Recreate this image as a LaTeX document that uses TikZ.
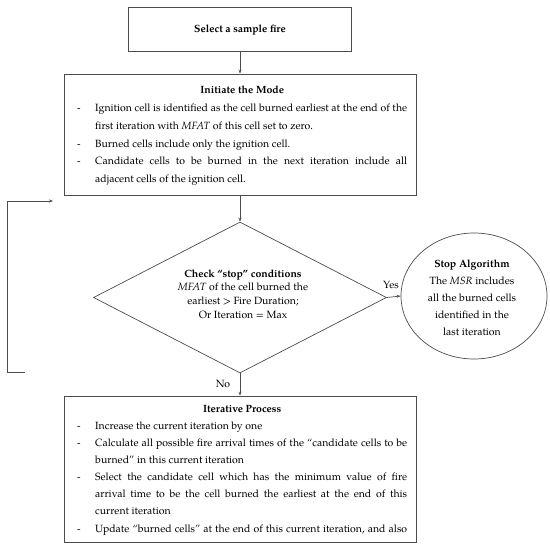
\documentclass[tikz,border=0pt]{standalone}
\usepackage{fontspec}
\setmainfont{TeX Gyre Pagella}
\usetikzlibrary{shapes.geometric,arrows.meta}
\newcommand\bitem[1]{\par\noindent\hangindent=18pt\hangafter=1\makebox[18pt][l]{-}#1\par}
\tikzset{
  line/.style={draw=black!70, line width=0.7pt},
  boxnode/.style={line, rectangle, inner sep=0pt},
  arr/.style={line, -{Stealth[length=4pt,width=3pt]}},
  bodytxt/.style={inner sep=0pt, text width=330pt, align=justify, anchor=north west},
  ctxt/.style={inner sep=0pt, align=center},
}
\begin{document}
\begin{tikzpicture}[x=1pt,y=-1pt]
\useasboundingbox (0,0) rectangle (550,546);
% boxes
\node[boxnode, minimum width=222.5pt, minimum height=44pt] (sel) at (240,29) {};
\node[ctxt, font=\fontsize{10.5}{12}\selectfont\bfseries] (seltxt) at (240,30) {Select a sample fire};
\node[boxnode, minimum width=352pt, minimum height=121pt] (init) at (240,134.5) {};
\node[bodytxt, font=\fontsize{10.5}{17.8}\selectfont] (inittxt) at (77,86) {%
\centerline{\bfseries Initiate the Mode}
\bitem{Ignition cell is identified as the cell burned earliest at the end of the\linebreak first iteration with \textit{MFAT} of this cell set to zero.}
\bitem{Burned cells include only the ignition cell.}
\bitem{Candidate cells to be burned in the next iteration include all\linebreak adjacent cells of the ignition cell.}};
\node[line, diamond, minimum width=293pt, minimum height=151pt, inner sep=0pt] (chk) at (240,297.5) {};
\node[ctxt, font=\fontsize{10.5}{13.6}\selectfont] (chktxt) at (243,294) {\textbf{Check “stop” conditions}\\ \textit{MFAT} of the cell burned the\\ earliest > Fire Duration;\\ Or Iteration = Max};
\node[line, ellipse, minimum width=146pt, minimum height=126pt, inner sep=0pt] (stop) at (474,296) {};
\node[ctxt, font=\fontsize{10.5}{17}\selectfont] (stoptxt) at (472,298) {\textbf{Stop Algorithm}\\ The \textit{MSR} includes\\ all the burned cells\\ identified in the\\ last iteration};
\node[boxnode, minimum width=352pt, minimum height=146pt] (iter) at (240,469) {};
\node[bodytxt, font=\fontsize{10.5}{17.1}\selectfont] (itertxt) at (77,405) {%
\centerline{\bfseries Iterative Process}
\bitem{Increase the current iteration by one}
\bitem{Calculate all possible fire arrival times of the “candidate cells to be\linebreak burned” in this current iteration}
\bitem{Select the candidate cell which has the minimum value of fire\linebreak arrival time to be the cell burned the earliest at the end of this\linebreak current iteration}
{\parfillskip=0pt \bitem{Update “burned cells” at the end of this current iteration, and also}}};
% connectors
\draw[arr] (sel.south) -- (init.north);
\draw[arr] (init.south) -- (chk.north);
\draw[arr] (chk.east) -- (stop.west);
\draw[arr] (chk.south) -- (iter.north);
\node[font=\fontsize{10.5}{12}\selectfont, inner sep=0pt] (yes) at (391,285) {Yes};
\node[font=\fontsize{10.5}{12}\selectfont, inner sep=0pt] (no) at (223,384) {No};
\coordinate (loopstart) at (25,372);
\coordinate (loopend) at (53,201);
\draw[arr] (loopstart) -- (7,372) |- (loopend);
\end{tikzpicture}
\end{document}
